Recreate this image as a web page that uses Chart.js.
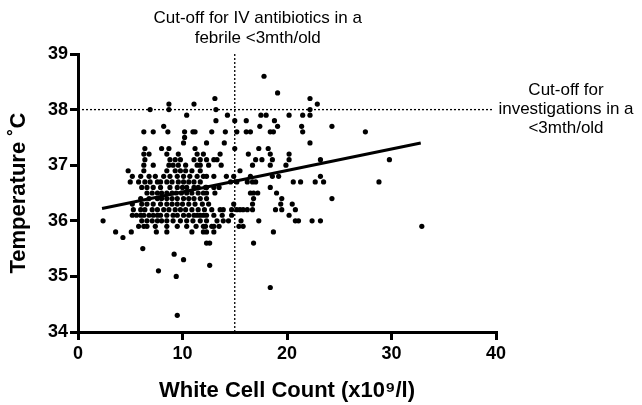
<!DOCTYPE html>
<html>
<head>
<meta charset="utf-8">
<script src="https://cdn.jsdelivr.net/npm/chart.js@4.4.1/dist/chart.umd.min.js"></script>
<style>
    html, body { margin: 0; padding: 0; background: #fff; }
</style>
</head>
<body>
<canvas id="wbc-chart" width="642" height="405"></canvas>
<script>
// Temperature readings (0.1 degree steps) and the white cell counts seen at each level
const tempLevels = [38.6, 38.3, 38.2, 38.1, 38.0, 37.9, 37.8, 37.7, 37.6, 37.5, 37.4, 37.3, 37.2, 37.1, 37.0,
    36.9, 36.8, 36.7, 36.6, 36.5, 36.4, 36.3, 36.2, 36.1, 36.0, 35.9, 35.8, 35.7, 35.6, 35.5, 35.4, 35.3,
    35.2, 35.1, 35.0, 34.8, 34.3];

const wbcAtLevel = [
    [17.8],
    [19.1],
    [13.1, 22.2],
    [8.7, 11.1, 22.9],
    [6.9, 8.7, 13.2, 22.2],
    [10.4, 14.3, 17.5, 18.0, 20.2, 21.5, 22.2],
    [13.2, 15.0, 16.1, 18.8],
    [8.2, 17.4, 19.1, 21.4, 24.3],
    [6.3, 7.2, 8.6, 10.2, 11.0, 11.2, 12.8, 14.1, 15.2, 16.1, 16.5, 18.4, 18.7, 21.5, 27.5],
    [10.2],
    [10.1, 12.3, 14.0, 22.2],
    [6.4, 8.0, 8.7, 11.2, 15.0, 17.3, 18.2],
    [6.3, 6.8, 8.5, 9.6, 11.4, 12.0, 13.6, 16.3, 18.4, 20.2],
    [6.4, 8.8, 9.3, 9.8, 11.1, 11.7, 12.3, 13.0, 13.3, 17.0, 17.6, 18.6, 20.2, 23.2, 29.8],
    [6.3, 7.2, 8.7, 9.1, 9.6, 10.3, 11.4, 11.7, 12.5, 13.7, 16.7, 18.4, 19.9],
    [4.8, 6.3, 8.5, 9.3, 9.8, 10.3, 10.9, 11.7, 15.5],
    [5.2, 6.0, 6.8, 7.4, 8.2, 8.8, 9.5, 10.1, 10.7, 11.4, 12.0, 12.3, 13.0, 14.2, 14.9, 16.5, 18.6, 19.2, 23.2],
    [5.0, 5.8, 6.4, 6.9, 7.6, 7.9, 8.5, 9.0, 9.6, 10.1, 10.6, 11.1, 11.7, 14.6, 15.2, 16.2, 16.7, 17.0, 20.6, 21.3, 22.7, 23.5, 28.8],
    [6.1, 6.6, 7.2, 7.9, 8.8, 9.5, 10.0, 10.4, 11.1, 11.5, 12.2, 12.3, 13.0, 13.5, 18.4],
    [6.6, 7.1, 7.6, 8.0, 8.5, 9.0, 9.4, 9.9, 10.4, 10.9, 11.5, 12.0, 12.3, 13.1, 16.5, 16.8, 17.2, 19.0],
    [6.0, 6.8, 7.6, 8.0, 8.5, 9.0, 9.5, 10.1, 10.6, 11.1, 11.7, 12.3, 16.8, 19.5, 24.3],
    [5.2, 6.1, 6.6, 7.2, 7.9, 8.5, 9.0, 9.5, 10.0, 10.6, 11.2, 11.9, 12.5, 14.9, 16.7, 19.4, 20.5],
    [5.3, 6.0, 6.4, 7.1, 7.6, 8.2, 8.7, 9.3, 9.8, 10.3, 10.9, 11.5, 12.1, 12.8, 13.6, 13.9, 14.7, 15.2, 15.5, 15.8, 16.2, 16.7, 18.9, 19.5, 20.8],
    [5.2, 5.6, 6.0, 6.3, 6.8, 7.2, 7.6, 7.9, 8.5, 9.1, 9.5, 10.1, 10.6, 11.1, 11.4, 11.7, 12.0, 12.3, 13.0, 13.8, 14.7, 20.2],
    [2.4, 6.1, 6.6, 7.1, 7.6, 8.0, 8.5, 9.1, 9.8, 10.4, 11.0, 11.7, 12.3, 13.3, 13.9, 14.4, 15.6, 17.3, 20.8, 21.1, 22.4, 23.2],
    [5.8, 6.3, 6.6, 7.4, 8.5, 9.5, 10.4, 11.3, 12.0, 12.2, 12.8, 13.0, 13.5, 15.4, 15.8, 32.9],
    [3.6, 5.1, 7.5, 8.5, 10.9, 12.0, 12.3, 13.0, 18.7],
    [4.3],
    [12.3, 12.6, 16.8],
    [6.2],
    [9.2],
    [10.1],
    [12.6],
    [7.7],
    [9.4],
    [18.4],
    [9.5]
];

// Linear fit end points
const fitWbc = [2.3, 32.8];
const fitTemp = [36.22, 37.40];

// Cut-offs
const cutoffWbc = 15;
const cutoffTemp = 38;
const wbcNote = ['Cut-off for IV antibiotics in a', 'febrile <3mth/old'];
const tempNote = ['Cut-off for', 'investigations in a', '<3mth/old'];

// Axis ranges and labels
const xRange = [0, 40];
const yRange = [34, 39];
const xTitle = 'White Cell Count (x10\u2079/l)';
const yTitle = 'Temperature \u02daC';

// Build point list
const points = [];
tempLevels.forEach((t, i) => {
    wbcAtLevel[i].forEach(w => points.push({ x: w, y: t }));
});

const fitLine = fitWbc.map((w, i) => ({ x: w, y: fitTemp[i] }));

const fontFamily = '"Liberation Sans", Arial, Helvetica, sans-serif';

// Draws the cut-off captions
const cutoffText = {
    id: 'cutoffText',
    afterDraw(chart) {
        const ctx = chart.ctx;
        const xs = chart.scales.x;
        const ys = chart.scales.y;
        ctx.save();
        ctx.fillStyle = '#000';
        ctx.font = '17px ' + fontFamily;
        ctx.textAlign = 'center';
        ctx.textBaseline = 'middle';
        const cx = xs.getPixelForValue(cutoffWbc) + 23;
        wbcNote.forEach((line, i) => ctx.fillText(line, cx, 18 + i * 20));
        const ry = ys.getPixelForValue(cutoffTemp);
        tempNote.forEach((line, i) => ctx.fillText(line, 566, ry - 19 + i * 19));
        ctx.restore();
    }
};

const axisStyle = {
    border: { display: true, color: '#000', width: 3 },
    grid: { display: true, drawOnChartArea: false, drawTicks: true, tickLength: 8, color: '#000', lineWidth: 3 }
};

new Chart(document.getElementById('wbc-chart').getContext('2d'), {
    type: 'scatter',
    data: {
        datasets: [
            {
                label: 'Fit',
                data: fitLine,
                showLine: true,
                borderColor: '#000',
                borderWidth: 3,
                pointRadius: 0,
                order: 0
            },
            {
                label: 'WBC cut-off',
                data: [{ x: cutoffWbc, y: yRange[0] }, { x: cutoffWbc, y: yRange[1] }],
                showLine: true,
                borderColor: '#000',
                borderWidth: 1.3,
                borderDash: [2, 2],
                pointRadius: 0,
                order: 1
            },
            {
                label: 'Temperature cut-off',
                data: [{ x: xRange[0], y: cutoffTemp }, { x: 39.7, y: cutoffTemp }],
                showLine: true,
                borderColor: '#000',
                borderWidth: 1.3,
                borderDash: [2, 2],
                pointRadius: 0,
                order: 1
            },
            {
                label: 'Patients',
                data: points,
                backgroundColor: '#000',
                borderWidth: 0,
                pointRadius: 2.6,
                order: 2
            }
        ]
    },
    options: {
        responsive: false,
        animation: false,
        devicePixelRatio: 1,
        layout: { padding: { top: 54, right: 146, bottom: 0, left: 0 } },
        plugins: { legend: { display: false }, tooltip: { enabled: false } },
        scales: {
            x: {
                type: 'linear',
                min: xRange[0],
                max: xRange[1],
                ...axisStyle,
                ticks: { stepSize: 10, color: '#000', padding: 3, font: { family: fontFamily, size: 18, weight: 'bold' } },
                title: { display: true, text: xTitle, color: '#000', padding: { top: 0, bottom: 1 }, font: { family: fontFamily, size: 22, weight: 'bold' } },
                afterFit(scale) { scale.height = 73; }
            },
            y: {
                type: 'linear',
                min: yRange[0],
                max: yRange[1],
                ...axisStyle,
                ticks: { stepSize: 1, color: '#000', padding: 2, font: { family: fontFamily, size: 18, weight: 'bold' } },
                title: { display: true, text: yTitle, color: '#000', padding: { top: 6, bottom: 0 }, font: { family: fontFamily, size: 22, weight: 'bold' } },
                afterFit(scale) { scale.width = 78; }
            }
        }
    },
    plugins: [cutoffText]
});
</script>
</body>
</html>
